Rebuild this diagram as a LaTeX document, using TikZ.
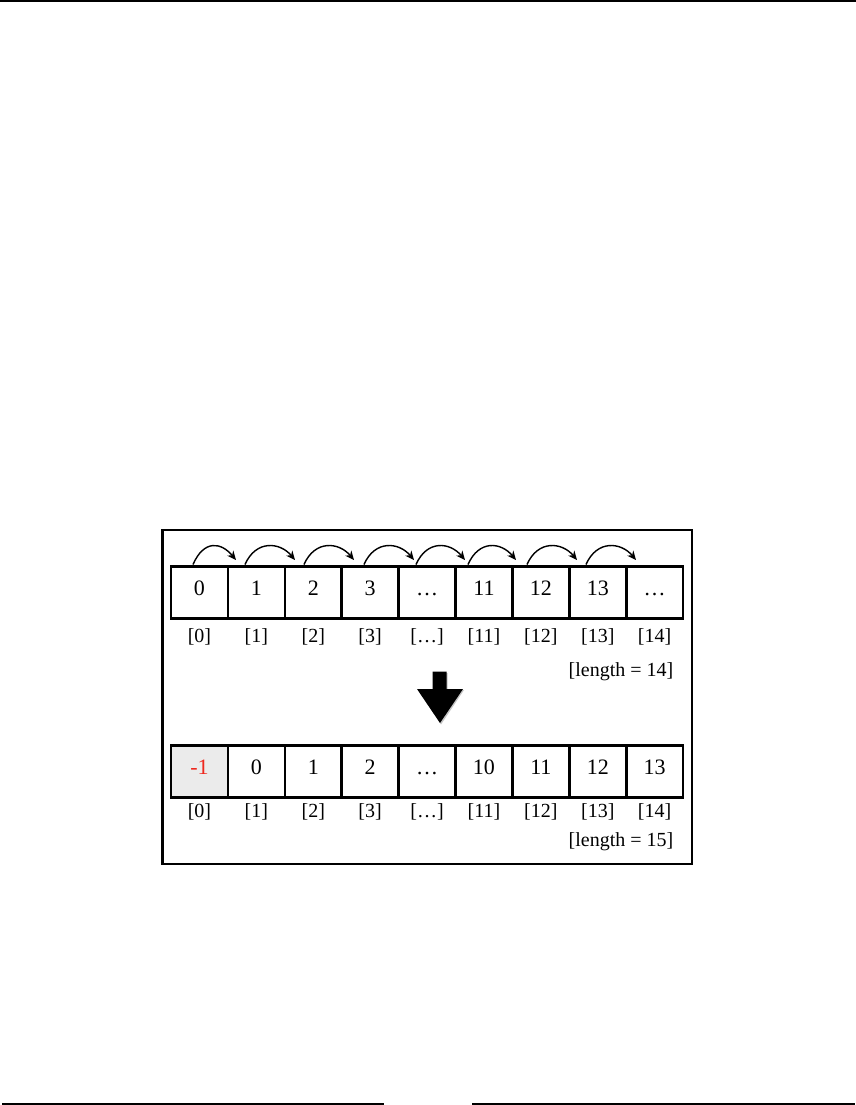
\documentclass[tikz,border=0pt]{standalone}
\usepackage{fontspec}
\setmainfont{Liberation Serif}
\usetikzlibrary{arrows.meta}
\definecolor{cellgray}{RGB}{235,235,235}
\definecolor{minusred}{RGB}{238,40,30}
\begin{document}
\begin{tikzpicture}[x=1pt,y=-1pt,
  cellbox/.style={draw=black, line width=2.6pt, minimum width=56.9pt, minimum height=52pt,
    inner sep=0pt, font=\fontsize{22}{26}\selectfont, text height=0.676em, text depth=0pt},
  idxlabel/.style={inner sep=0pt, font=\fontsize{20}{24}\selectfont, text height=0.69em, text depth=0.19em},
  lenlabel/.style={idxlabel, anchor=east},
  hop/.style={line width=1.4pt, -{Stealth[length=9pt,width=8pt]}},
  frame/.style={draw=black, line width=2.4pt},
  rule/.style={line width=1.3pt}
]
\useasboundingbox (0,0) rectangle (856,1105);
% page rules
\fill[black] (0,0) rectangle (856,2);
\draw[rule] (2,1104) -- (384,1104);
\draw[rule] (472,1104) -- (855,1104);
% frame
\draw[frame] (162.5,530) rectangle (692,864);
% top row
\foreach \v [count=\i from 0] in {0,1,2,3,…,11,12,13,…}{
  \node[cellbox] (t\i) at ({171+56.9*(\i+0.5)},592.3) {\v};
}
\foreach \v [count=\i from 0] in {[0],[1],[2],[3],[…],[11],[12],[13],[14]}{
  \node[idxlabel] (ti\i) at ({171+56.9*(\i+0.5)},640) {\v};
}
\node[lenlabel] (tlen) at (673.5,673.5) {[length = 14]};
% hop arrows
\foreach \s/\e [count=\k from 0] in {193/236,245/295,304/354,364/414,416/465,468/516,527/577,586/636}{
  \coordinate (hs\k) at (\s,564.5);
  \coordinate (he\k) at (\e,560);
  \draw[hop] (hs\k) .. controls +(11,-25) and +(-15,-18) .. (he\k);
}
% big down arrow
\fill[black!90, opacity=0.25] (433.7,673) -- (447.7,673) -- (447.7,690) -- (464,690) -- (441,724.5) -- (418,690) -- (433.7,690) -- cycle;
\fill[black] (432.7,671.7) -- (446.7,671.7) -- (446.7,689) -- (463,689) -- (440,723) -- (417,689) -- (432.7,689) -- cycle;
% bottom row
\node[cellbox, fill=cellgray, text=minusred] (b0) at ({171+56.9*0.5},771.5) {-1};
\foreach \v [count=\i from 1] in {0,1,2,…,10,11,12,13}{
  \node[cellbox] (b\i) at ({171+56.9*(\i+0.5)},771.5) {\v};
}
\foreach \v [count=\i from 0] in {[0],[1],[2],[3],[…],[11],[12],[13],[14]}{
  \node[idxlabel] (bi\i) at ({171+56.9*(\i+0.5)},814.5) {\v};
}
\node[lenlabel] (blen) at (673.5,844) {[length = 15]};
\end{tikzpicture}
\end{document}
